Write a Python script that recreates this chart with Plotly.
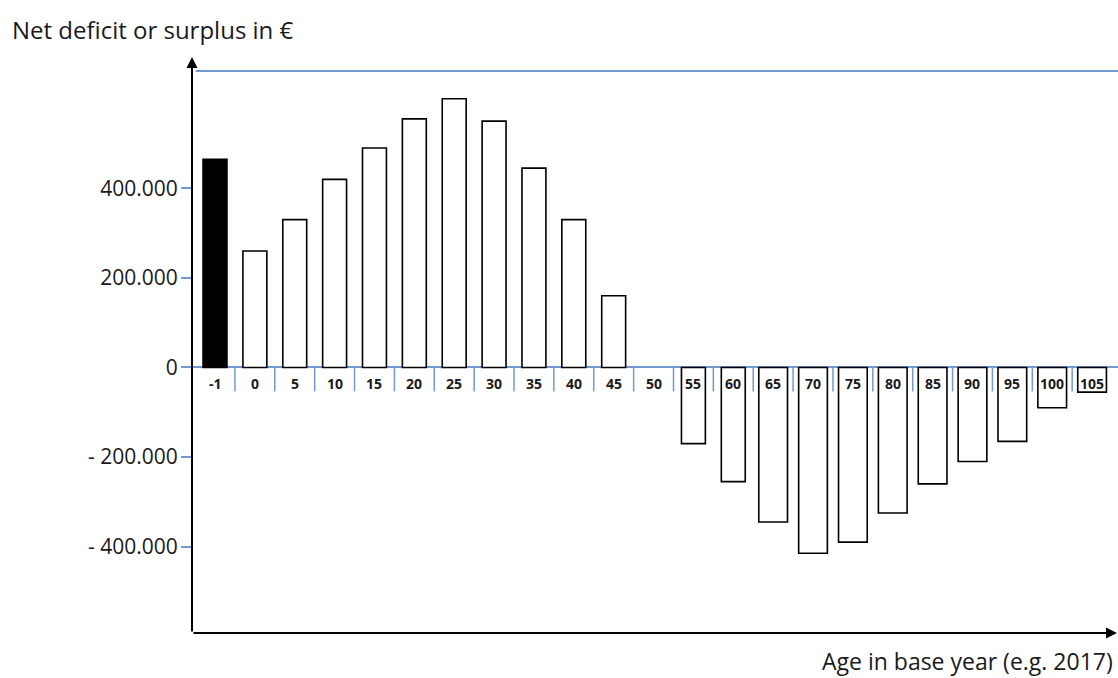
import plotly.graph_objects as go

# Age groups in the base year and the net fiscal balance per person (EUR)
ages = ["-1", "0", "5", "10", "15", "20", "25", "30", "35", "40", "45", "50",
        "55", "60", "65", "70", "75", "80", "85", "90", "95", "100", "105"]
net_balance = [465000, 260000, 330000, 420000, 490000, 555000, 600000, 550000,
               445000, 330000, 160000, None, -170000, -255000, -345000, -415000,
               -390000, -325000, -260000, -210000, -165000, -90000, -55000]

y_tick_values = [-400000, -200000, 0, 200000, 400000]
y_tick_text = ["- 400.000", "- 200.000", "0", "200.000", "400.000"]

y_title = "Net deficit or surplus in €"
x_title = "Age in base year (e.g. 2017)"

BLUE = "#7399d0"
INK = "#1a1a1a"
FONT = "Open Sans"

fill = ["black" if a == "-1" else "white" for a in ages]
widths = [0.72 if int(a) >= 65 else 0.6 for a in ages]

fig = go.Figure(
    go.Bar(
        x=ages,
        y=net_balance,
        width=widths,
        marker=dict(color=fill, line=dict(color="black", width=1.6)),
        hoverinfo="x+y",
    )
)

# category labels sit just under the zero line (positioned by category index)
for i, a in enumerate(ages):
    fig.add_annotation(
        x=i, y=0, xref="x", yref="y", yshift=-16,
        text=f"<b>{a}</b>", showarrow=False,
        font=dict(family=FONT, size=14, color=INK),
    )

# short separators between neighbouring age groups on the zero line
for i in range(len(ages) - 1):
    fig.add_shape(
        type="line", xref="x", yref="y",
        x0=i + 0.5, x1=i + 0.5,
        ysizemode="pixel", yanchor=0, y0=-24, y1=0,
        line=dict(color=BLUE, width=1.5), layer="below",
    )

# thin blue frame line along the top of the plotting area
fig.add_shape(
    type="line", xref="paper", yref="paper",
    x0=0.004, x1=1.0, y0=1.0, y1=1.0,
    line=dict(color=BLUE, width=2),
)

# vertical axis with arrow head
fig.add_annotation(
    xref="paper", yref="paper", x=0.0, y=1.025,
    axref="pixel", ayref="pixel", ax=0, ay=576,
    showarrow=True, arrowhead=2, arrowsize=1.1, arrowwidth=2,
    arrowcolor="black", text="",
)
# horizontal axis with arrow head
fig.add_annotation(
    xref="paper", yref="paper", x=1.0, y=0.0,
    axref="pixel", ayref="pixel", ax=-926, ay=0,
    showarrow=True, arrowhead=2, arrowsize=1.1, arrowwidth=2,
    arrowcolor="black", text="",
)

# axis titles
fig.add_annotation(
    xref="paper", yref="paper", x=-0.1965, y=1.0747,
    xanchor="left", yanchor="middle", showarrow=False,
    text=y_title, font=dict(family=FONT, size=24, color=INK),
)
fig.add_annotation(
    xref="paper", yref="paper", x=0.997, y=-0.0495,
    xanchor="right", yanchor="middle", showarrow=False,
    text=x_title, font=dict(family=FONT, size=23, color=INK),
)

fig.update_layout(
    width=1118, height=678,
    margin=dict(l=192, r=0, t=71, b=45),
    paper_bgcolor="white", plot_bgcolor="white",
    showlegend=False,
    bargap=0.4,
    xaxis=dict(
        type="category", range=[-0.577, 22.65],
        showline=False, showgrid=False, zeroline=False,
        showticklabels=False, ticks="",
    ),
    yaxis=dict(
        range=[-593000, 662000],
        tickmode="array", tickvals=y_tick_values, ticktext=y_tick_text,
        ticks="outside", ticklen=10, tickwidth=1.5, tickcolor=BLUE,
        tickfont=dict(family=FONT, size=21, color=INK),
        ticklabelstandoff=-1,
        showgrid=False, showline=False,
        zeroline=True, zerolinecolor=BLUE, zerolinewidth=1.5,
        layer="below traces",
    ),
)

fig.write_html("out.html")
